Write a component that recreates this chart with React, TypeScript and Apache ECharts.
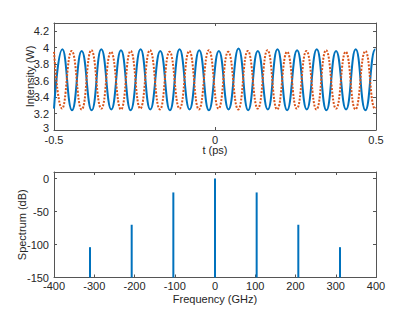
import React, { useEffect, useRef } from "react";
import * as echarts from "echarts";

// Top panel: intensity vs time (peaks / troughs)
const blueT = [-0.5, -0.474, -0.444, -0.414, -0.383, -0.353, -0.322, -0.292, -0.262, -0.231, -0.201, -0.17, -0.14, -0.11, -0.079, -0.049, -0.019, 0.012, 0.042, 0.073, 0.103, 0.133, 0.164, 0.194, 0.224, 0.255, 0.285, 0.316, 0.346, 0.376, 0.407, 0.437, 0.467, 0.498, 0.5];
const blueI = [3.26, 3.98, 3.24, 3.96, 3.24, 3.98, 3.25, 3.97, 3.24, 3.98, 3.25, 3.96, 3.24, 3.98, 3.25, 3.97, 3.24, 3.96, 3.25, 3.99, 3.24, 3.96, 3.25, 3.98, 3.24, 3.97, 3.25, 3.98, 3.24, 3.96, 3.25, 3.98, 3.24, 3.98, 3.98];
const redT = [-0.5, -0.475, -0.445, -0.414, -0.384, -0.353, -0.323, -0.292, -0.262, -0.232, -0.202, -0.171, -0.141, -0.11, -0.08, -0.05, -0.019, 0.011, 0.041, 0.072, 0.102, 0.133, 0.163, 0.193, 0.224, 0.254, 0.284, 0.315, 0.345, 0.376, 0.406, 0.436, 0.467, 0.497, 0.5];
const redI = [3.95, 3.26, 3.96, 3.25, 3.97, 3.26, 3.95, 3.25, 3.96, 3.26, 3.97, 3.25, 3.95, 3.26, 3.96, 3.25, 3.97, 3.26, 3.95, 3.25, 3.96, 3.26, 3.97, 3.25, 3.95, 3.26, 3.96, 3.25, 3.97, 3.26, 3.95, 3.25, 3.96, 3.26, 3.27];

// Bottom panel: spectrum lines
const specFreq = [-310.5, -207, -103.5, 0, 103.5, 207, 310.5];
const specDb = [-104, -70, -21, 0, -21, -70, -104];
const specFloor = -150;

const FONT = "Liberation Sans";
const TXT = "#262626";
const AX = "#555555";

function frameAxis(base: any, position: string, gridIndex: number) {
  return {
    ...base,
    gridIndex,
    position,
    axisLine: { show: true, onZero: false, lineStyle: { color: AX, width: 1 } },
    axisTick: { show: true, inside: true, length: 3, lineStyle: { color: AX } },
    axisLabel: { show: false },
    splitLine: { show: false },
    name: "",
  };
}

export default function App() {
  const ref = useRef<HTMLDivElement>(null);
  useEffect(() => {
    if (!ref.current) return;
    const chart = echarts.init(ref.current, undefined, { renderer: "svg" });
    const labelStyle = { color: TXT, fontFamily: FONT, fontSize: 11 };
    const nameStyle = { color: TXT, fontFamily: FONT, fontSize: 11, align: "center", verticalAlign: "middle" };

    const xTop = { type: "value", min: -0.5, max: 0.5, interval: 0.5 };
    const yTop = { type: "value", min: 3, max: 4.3, interval: 0.2 };
    const xBot = { type: "value", min: -400, max: 400, interval: 100 };
    const yBot = { type: "value", min: -150, max: 10, interval: 50 };

    const mainAxis = (base: any, position: string, gridIndex: number, extra: any) => ({
      ...base,
      gridIndex,
      position,
      axisLine: { show: true, onZero: false, lineStyle: { color: AX, width: 1 } },
      axisTick: { show: true, inside: true, length: 3, lineStyle: { color: AX } },
      splitLine: { show: false },
      nameLocation: "middle",
      nameMoveOverlap: false,
      nameTextStyle: nameStyle,
      ...extra,
    });

    chart.setOption({
      animation: false,
      grid: [
        { left: 54, top: 23, width: 322, height: 107 },
        { left: 54, top: 172, width: 322, height: 105.5 },
      ],
      xAxis: [
        mainAxis(xTop, "bottom", 0, {
          name: "t (ps)",
          nameGap: 19.5,
          axisLabel: { ...labelStyle, margin: 4 },
        }),
        frameAxis(xTop, "top", 0),
        mainAxis(xBot, "bottom", 1, {
          name: "Frequency (GHz)",
          nameGap: 21,
          axisLabel: { ...labelStyle, margin: 3 },
        }),
        frameAxis(xBot, "top", 1),
      ],
      yAxis: [
        mainAxis(yTop, "left", 0, {
          name: "Intensity (W)",
          nameGap: 24.5,
          axisLabel: {
            ...labelStyle,
            margin: 5,
            formatter: (v: number) =>
              v > 4.25 ? "" : v < 3.05 ? "{low|3}" : String(Math.round(v * 10) / 10),
            rich: { low: { ...labelStyle, padding: [0, 0, 4, 0] } },
          },
        }),
        frameAxis(yTop, "right", 0),
        mainAxis(yBot, "left", 1, {
          name: "Spectrum (dB)",
          nameGap: 32,
          axisLabel: {
            ...labelStyle,
            margin: 5,
            formatter: (v: number) => (v > 5 ? "" : String(v)),
          },
        }),
        frameAxis(yBot, "right", 1),
      ],
      series: [
        {
          type: "line",
          xAxisIndex: 0,
          yAxisIndex: 0,
          data: blueT.map((t, i) => [t, blueI[i]]),
          showSymbol: false,
          symbol: "none",
          smooth: 0.5,
          lineStyle: { color: "#0072BD", width: 2 },
          z: 2,
        },
        {
          type: "line",
          xAxisIndex: 0,
          yAxisIndex: 0,
          data: redT.map((t, i) => [t, redI[i]]),
          showSymbol: false,
          symbol: "none",
          smooth: 0.5,
          lineStyle: { color: "#D95319", width: 2, type: [2, 1.5] },
          z: 3,
        },
        {
          type: "custom",
          xAxisIndex: 2,
          yAxisIndex: 2,
          data: specFreq.map((f, i) => [f, specDb[i]]),
          renderItem: (_p: any, api: any) => {
            const top = api.coord([api.value(0), api.value(1)]);
            const bot = api.coord([api.value(0), specFloor]);
            return {
              type: "line",
              shape: { x1: top[0], y1: top[1], x2: bot[0], y2: bot[1] },
              style: { stroke: "#0072BD", lineWidth: 2 },
            };
          },
        },
      ],
    });
    return () => chart.dispose();
  }, []);
  return (
    <div
      ref={ref}
      style={{ position: "absolute", left: 0, top: 0, width: 415, height: 312, background: "#fff" }}
    />
  );
}
